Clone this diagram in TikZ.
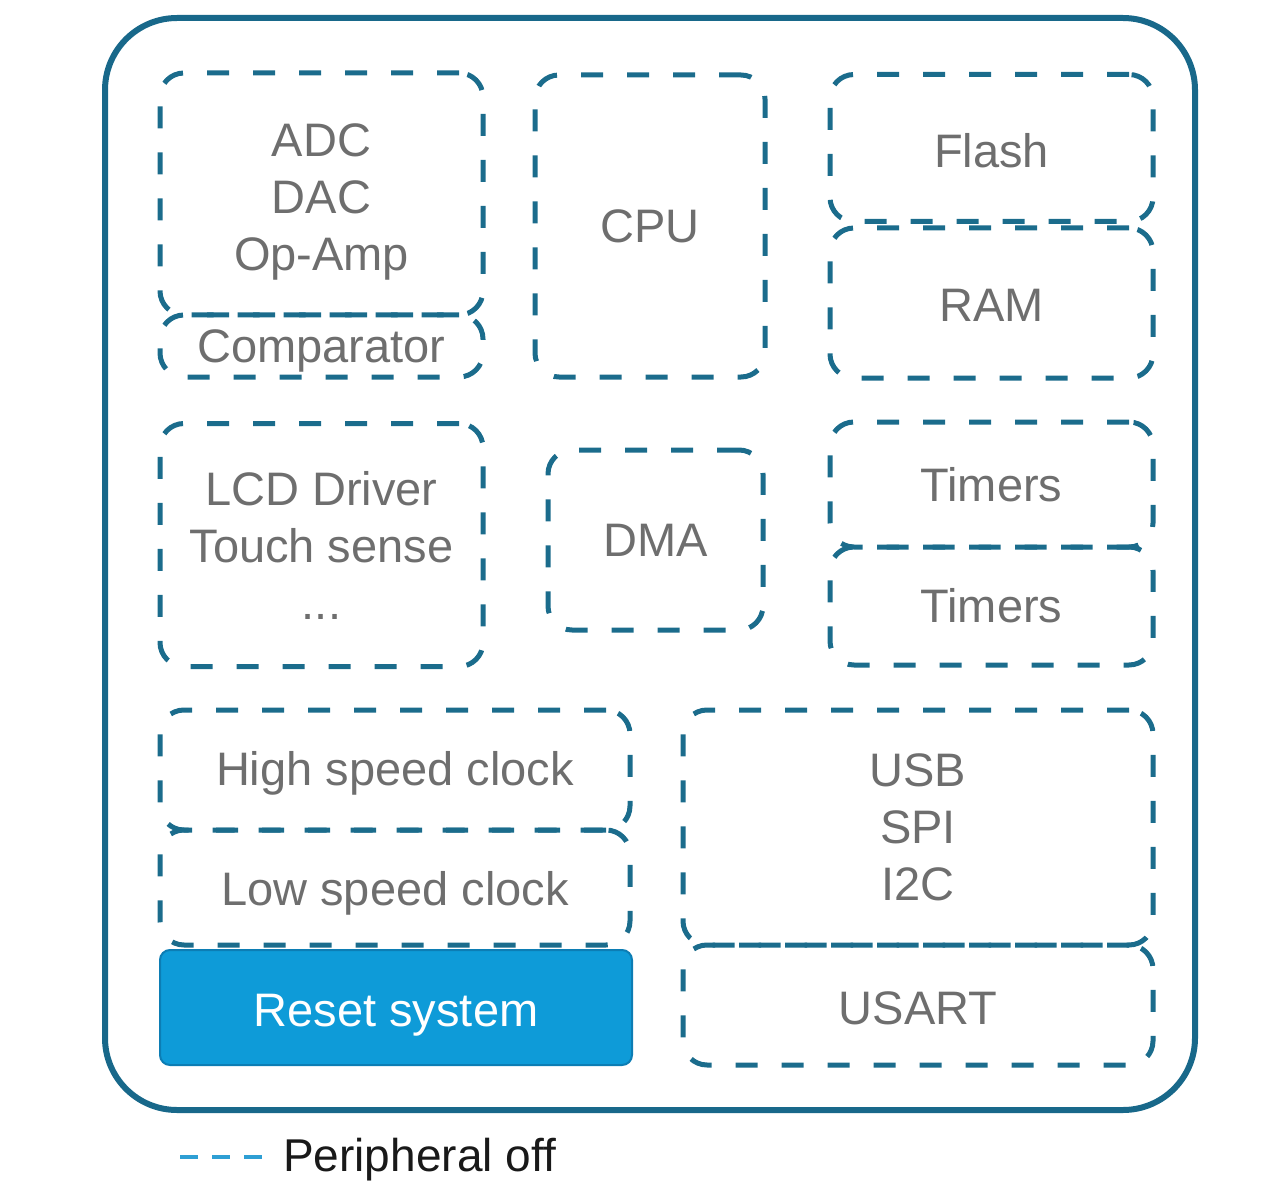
\documentclass[tikz,border=0pt]{standalone}
\usepackage{fontspec}
\setmainfont{Liberation Sans}
\definecolor{teal}{RGB}{24,104,138}
\definecolor{dteal}{RGB}{27,108,140}
\definecolor{resetfill}{RGB}{14,155,216}
\definecolor{resetdraw}{RGB}{12,125,180}
\definecolor{txtgray}{RGB}{110,110,110}
\definecolor{legblue}{RGB}{46,159,212}
\tikzset{
  pbox/.style={draw=dteal, line width=5pt, dash pattern=on 22pt off 24pt,
    rounded corners=24pt, rectangle, inner sep=0pt},
  rbox/.style={draw=resetdraw, fill=resetfill, line width=2pt,
    rounded corners=10pt, rectangle, inner sep=0pt},
  txt/.style={inner sep=0pt, align=center, text=txtgray, font=\fontsize{47}{57}\selectfont},
  wtxt/.style={txt, text=white},
  outer/.style={draw=teal, line width=6pt, rounded corners=72pt, rectangle, inner sep=0pt}
}
\begin{document}
\begin{tikzpicture}[x=1pt,y=-1pt]
\useasboundingbox (0,0) rectangle (1280,1190);
\node[outer, minimum width=1090pt, minimum height=1092pt] (chip) at (650,564) {};
% top row
\node[pbox, minimum width=323pt, minimum height=242pt] (adc) at (321.5,194) {};
\node[txt, yshift=-8pt] (adct) at (adc) {ADC\\DAC\\Op-Amp};
\node[pbox, minimum width=323pt, minimum height=62pt] (comp) at (321.5,346) {};
\node[txt, yshift=-5pt] (compt) at (comp) {Comparator};
\node[pbox, minimum width=230pt, minimum height=302pt] (cpu) at (650,226) {};
\node[txt] (cput) at (cpu) {CPU};
\node[pbox, minimum width=323pt, minimum height=147pt] (flash) at (991.5,148) {};
\node[txt, yshift=-3pt] (flasht) at (flash) {Flash};
\node[pbox, minimum width=323pt, minimum height=150pt] (ram) at (991.5,303) {};
\node[txt, yshift=-2pt] (ramt) at (ram) {RAM};
% middle row
\node[pbox, minimum width=323pt, minimum height=243pt] (lcd) at (321.5,545) {};
\node[txt] (lcdt) at (lcd) {LCD Driver\\Touch sense\\...};
\node[pbox, minimum width=215pt, minimum height=180pt] (dma) at (655.5,540) {};
\node[txt] (dmat) at (dma) {DMA};
\node[pbox, minimum width=323pt, minimum height=125pt] (tim1) at (991.5,484.5) {};
\node[txt] (tim1t) at (tim1) {Timers};
\node[pbox, minimum width=323pt, minimum height=118pt] (tim2) at (991.5,606) {};
\node[txt] (tim2t) at (tim2) {Timers};
% bottom row
\node[pbox, minimum width=470pt, minimum height=120pt] (hsc) at (395,770) {};
\node[txt, yshift=-3pt] (hsct) at (hsc) {High speed clock};
\node[pbox, minimum width=470pt, minimum height=115pt] (lsc) at (395,887.5) {};
\node[txt, yshift=-6pt] (lsct) at (lsc) {Low speed clock};
\node[rbox, minimum width=472pt, minimum height=115pt] (reset) at (396,1007.5) {};
\node[wtxt, yshift=-8pt] (resett) at (reset) {Reset system};
\node[pbox, minimum width=470pt, minimum height=235pt] (usb) at (918,827.5) {};
\node[txt] (usbt) at (usb) {USB\\SPI\\I2C};
\node[pbox, minimum width=470pt, minimum height=120pt] (usart) at (918,1005) {};
\node[txt, yshift=-3pt] (usartt) at (usart) {USART};
% legend
\coordinate (l1) at (180,1157);
\coordinate (l2) at (262,1157);
\draw[legblue, line width=4pt, dash pattern=on 18pt off 14pt] (l1) -- (l2);
\node[anchor=west, inner sep=0pt, text=black!90, font=\fontsize{46}{55}\selectfont] (leg) at (283,1160) {Peripheral off};
\end{tikzpicture}
\end{document}
